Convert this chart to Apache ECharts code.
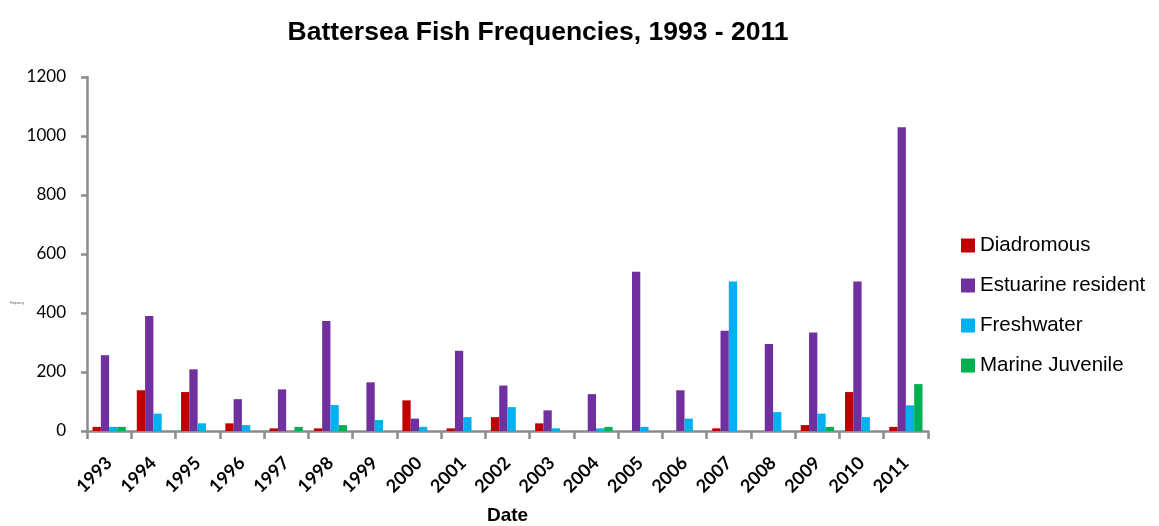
<!DOCTYPE html>
<html>
<head>
<meta charset="utf-8">
<script src="https://cdn.jsdelivr.net/npm/echarts@6/dist/echarts.min.js"></script>
<style>
  html, body { margin: 0; padding: 0; background: #fff; }
  #chart { width: 1159px; height: 526px; }
</style>
</head>
<body>
<div id="chart"></div>
<script>
// Yearly fish counts at Battersea, by ecological guild
const years = ['1993','1994','1995','1996','1997','1998','1999','2000','2001','2002',
               '2003','2004','2005','2006','2007','2008','2009','2010','2011'];
const diadromous = [14, 138, 132, 26, 9, 9, 0, 104, 9, 47, 26, 0, 0, 0, 9, 0, 20, 132, 14];
const estuarineResident = [257, 390, 209, 108, 141, 373, 165, 42, 272, 154, 70, 125, 540, 138, 340, 295, 334, 507, 1030];
const freshwater = [14, 59, 26, 20, 0, 88, 37, 14, 47, 81, 9, 9, 14, 42, 507, 64, 59, 47, 87];
const marineJuvenile = [14, 0, 0, 0, 14, 20, 0, 0, 0, 0, 0, 14, 0, 0, 0, 0, 14, 0, 159];
const yTicks = [0, 200, 400, 600, 800, 1000, 1200];

const seriesDefs = [
  { name: 'Diadromous', data: diadromous, color: '#C00000' },
  { name: 'Estuarine resident', data: estuarineResident, color: '#7030A0' },
  { name: 'Freshwater', data: freshwater, color: '#00B0F0' },
  { name: 'Marine Juvenile', data: marineJuvenile, color: '#00B050' }
];

const chart = echarts.init(document.getElementById('chart'), null, { renderer: 'canvas' });
const axisGray = '#8C8C8C';

chart.setOption({
  animation: false,
  backgroundColor: '#ffffff',
  title: {
    text: 'Battersea Fish Frequencies, 1993 - 2011',
    left: 533,
    textAlign: 'center',
    top: 14,
    textStyle: { fontFamily: 'Liberation Sans, Arial, sans-serif', fontSize: 26.5, fontWeight: 'bold', color: '#000' }
  },
  // tiny y-axis caption
  graphic: [{
    type: 'text',
    left: 10,
    top: 302,
    style: { text: 'Frequency', fontSize: 3, fill: '#555', fontFamily: 'Liberation Sans, Arial, sans-serif' }
  }],
  legend: {
    orient: 'vertical',
    left: 956,
    top: 230,
    itemWidth: 14,
    itemHeight: 14,
    itemGap: 19,
    icon: 'rect',
    textStyle: { fontFamily: 'Liberation Sans, Arial, sans-serif', fontSize: 20.5, lineHeight: 20, color: '#000' },
    data: seriesDefs.map(s => s.name)
  },
  grid: { left: 87, right: 231, top: 77, bottom: 95, containLabel: false, outerBoundsMode: 'none' },
  xAxis: {
    type: 'category',
    data: years,
    name: 'Date',
    nameLocation: 'middle',
    nameGap: 75,
    nameTextStyle: { fontFamily: 'Liberation Sans, Arial, sans-serif', fontSize: 19, fontWeight: 'bold', color: '#000' },
    axisLine: { lineStyle: { color: axisGray, width: 2.5 } },
    axisTick: { show: true, alignWithLabel: false, length: 8, lineStyle: { color: axisGray, width: 2.5 } },
    axisLabel: {
      rotate: 45,
      margin: 29,
      fontFamily: 'Lato, Open Sans, sans-serif',
      fontSize: 18,
      fontWeight: 'bold',
      color: '#000'
    }
  },
  yAxis: {
    type: 'value',
    min: yTicks[0],
    max: yTicks[yTicks.length - 1],
    interval: 200,
    splitLine: { show: false },
    axisLine: { show: true, lineStyle: { color: axisGray, width: 2.5 } },
    axisTick: { show: true, length: 6, inside: false, lineStyle: { color: axisGray, width: 2.5 } },
    axisLabel: {
      margin: 21,
      fontFamily: 'Lato, Open Sans, sans-serif',
      fontSize: 17,
      color: '#000',
      formatter: v => String(v)
    }
  },
  series: seriesDefs.map(s => ({
    name: s.name,
    type: 'bar',
    data: s.data,
    barGap: '0%',
    barCategoryGap: '25%',
    itemStyle: { color: s.color }
  }))
});
</script>
</body>
</html>
